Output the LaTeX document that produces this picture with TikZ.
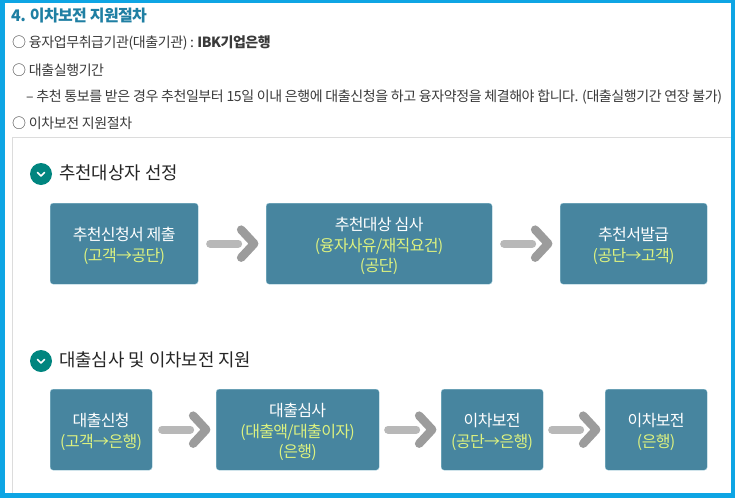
\documentclass[tikz,border=0pt]{standalone}
\usepackage{fontspec}
\setmainfont{Noto Sans CJK KR}
\usetikzlibrary{calc}
\definecolor{frameblue}{HTML}{0EA5E4}
\definecolor{titleblue}{HTML}{1F7FA3}
\definecolor{bodyink}{HTML}{3A3A3A}
\definecolor{ruleg}{HTML}{DCDCDC}
\definecolor{boxblue}{HTML}{47859F}
\definecolor{boxedge}{HTML}{A8D2DF}
\definecolor{lime}{HTML}{DDF27F}
\definecolor{shaftg}{HTML}{B8B8B8}
\definecolor{headg}{HTML}{9C9C9C}
\definecolor{dotteal}{HTML}{00857F}
\newcommand{\fs}[1]{\fontsize{#1}{#1}\selectfont}
\newcommand{\firstline}{\rule{0pt}{18pt}}
\tikzset{
  x=1pt,y=-1pt,
  stepbox/.style={draw=boxedge,line width=0.3pt,fill=boxblue,rounded corners=3pt,anchor=north west,inner sep=0pt,align=center,text=white,font=\fs{16}\addfontfeatures{LetterSpace=-4},execute at begin node={\setlength{\baselineskip}{20.5pt}}},
  bodytext/.style={anchor=west,inner sep=0pt,text=bodyink,font=\fs{14}\addfontfeatures{LetterSpace=-3}},
  titletext/.style={anchor=west,inner sep=0pt,text=titleblue,font=\fs{16}\bfseries\addfontfeatures{LetterSpace=-4}},
  headtext/.style={anchor=west,inner sep=0pt,text=black!85,font=\fs{17.8}},
  shaftline/.style={draw=shaftg,line width=8pt,line cap=round},
  headline/.style={draw=headg,line width=8.5pt,line cap=round,line join=round},
  dot/.style={circle,fill=dotteal,minimum size=22pt,inner sep=0pt},
  dotmark/.style={draw=white,line width=1.6pt,line cap=round,line join=round},
}
\newcommand{\lk}[1]{\textcolor{lime}{#1}}
\newcommand{\linkboxes}[2]{%
  \coordinate (m) at ($(#1.east)!.5!(#2.west)$);
  \draw[shaftline] ($(m)+(-22,0)$) -- ($(m)+(6,0)$);
  \draw[headline] ($(m)+(9,-14)$) -- ($(m)+(22,0)$) -- ($(m)+(9,14)$);
}
\begin{document}
\begin{tikzpicture}
\useasboundingbox (0,0) rectangle (735,498);
\fill[white] (0,0) rectangle (735,498);
% inner frame
\draw[ruleg,line width=1pt] (12.5,493) -- (12.5,137.5) -- (731,137.5);
% outer frame
\fill[frameblue] (0,0) rectangle (735,3);
\fill[frameblue] (0,0) rectangle (5,498);
\fill[frameblue] (731,0) rectangle (735,498);
\fill[frameblue] (0,493) rectangle (735,498);
% heading and body text
\node[titletext] (title) at (11,16) {4. 이차보전 지원절차};
\node[bodytext] (l1) at (12,43) {○ 융자업무취급기관(대출기관) : \textbf{IBK기업은행}};
\node[bodytext] (l2) at (12,70) {○ 대출실행기간};
\node[bodytext] (l3) at (26,97) {– 추천 통보를 받은 경우 추천일부터 15일 이내 은행에 대출신청을 하고 융자약정을 체결해야 합니다. (대출실행기간 연장 불가)};
\node[bodytext] (l4) at (12,123) {○ 이차보전 지원절차};
% section 1
\node[dot] (d1) at (41,174) {};
\draw[dotmark] ($(d1)+(-3.5,-1.5)$) -- ($(d1)+(0,2)$) -- ($(d1)+(3.5,-1.5)$);
\node[headtext] (h1) at (59,173) {추천대상자 선정};
\node[stepbox,minimum width=148pt,minimum height=81pt] (a1) at (50,203) {\firstline 추천신청서 제출\\\lk{(고객→공단)}};
\node[stepbox,minimum width=226pt,minimum height=81pt] (a2) at (266,203) {\firstline 추천대상 심사\\\lk{(융자사유/재직요건)}\\\lk{(공단)}};
\node[stepbox,minimum width=147pt,minimum height=81pt] (a3) at (560,203) {\firstline 추천서발급\\\lk{(공단→고객)}};
\linkboxes{a1}{a2}
\linkboxes{a2}{a3}
% section 2
\node[dot] (d2) at (41,361) {};
\draw[dotmark] ($(d2)+(-3.5,-1.5)$) -- ($(d2)+(0,2)$) -- ($(d2)+(3.5,-1.5)$);
\node[headtext] (h2) at (59,360) {대출심사 및 이차보전 지원};
\node[stepbox,minimum width=102pt,minimum height=81pt] (b1) at (50,389) {\firstline 대출신청\\\lk{(고객→은행)}};
\node[stepbox,minimum width=163pt,minimum height=81pt] (b2) at (216,389) {\firstline 대출심사\\\lk{(대출액/대출이자)}\\\lk{(은행)}};
\node[stepbox,minimum width=102pt,minimum height=81pt] (b3) at (441,389) {\firstline 이차보전\\\lk{(공단→은행)}};
\node[stepbox,minimum width=102pt,minimum height=81pt] (b4) at (605,389) {\firstline 이차보전\\\lk{(은행)}};
\linkboxes{b1}{b2}
\linkboxes{b2}{b3}
\linkboxes{b3}{b4}
\end{tikzpicture}
\end{document}
